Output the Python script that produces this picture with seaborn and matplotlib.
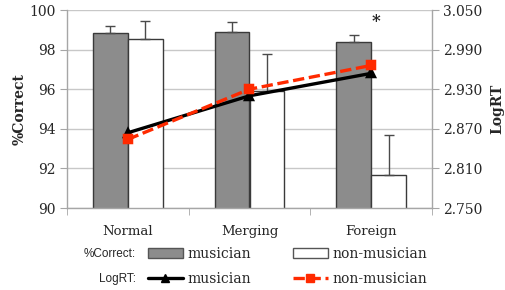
import matplotlib
matplotlib.use("Agg")
import matplotlib.pyplot as plt
import seaborn as sns
import pandas as pd
from matplotlib.patches import Patch
from matplotlib.lines import Line2D

# ---------------- data ----------------
categories = ["Normal", "Merging", "Foreign"]
groups = ["musician", "non-musician"]
correct_musician = [98.85, 98.87, 98.37]
correct_nonmusician = [98.52, 95.90, 91.67]
err_musician = [0.33, 0.51, 0.37]
err_nonmusician = [0.94, 1.86, 2.00]
logrt_musician = [2.864, 2.920, 2.954]
logrt_nonmusician = [2.854, 2.930, 2.966]
left_ticks = [90, 92, 94, 96, 98, 100]
right_ticks = [2.750, 2.810, 2.870, 2.930, 2.990, 3.050]
left_label = "%Correct"
right_label = "LogRT"
star_text = "*"

df_bar = pd.DataFrame({
    "cat": categories * 2,
    "group": [groups[0]] * 3 + [groups[1]] * 3,
    "val": correct_musician + correct_nonmusician,
    "err": err_musician + err_nonmusician,
})
df_line = pd.DataFrame({
    "cat": categories * 2,
    "group": [groups[0]] * 3 + [groups[1]] * 3,
    "val": logrt_musician + logrt_nonmusician,
})

sns.set_style("white")
plt.rcParams["font.family"] = ["DejaVu Serif"]

SERIF = "DejaVu Serif"
SANS = "Liberation Sans"
GRID = "#c8c8c8"
SPINE = "#a6a6a6"
BAR_GRAY = "#8c8c8c"
RED = "#ff2a00"

fig = plt.figure(figsize=(5.05, 2.90), dpi=100)
ax = fig.add_axes([67 / 505, 1 - 208 / 290, (432 - 67) / 505, (208 - 10) / 290])

sns.barplot(data=df_bar, x="cat", y="val", hue="group", order=categories,
            hue_order=groups, palette=[BAR_GRAY, "white"], width=0.57,
            edgecolor="#3a3a3a", linewidth=1.0, errorbar=None, ax=ax,
            legend=False, zorder=2)

# error bars (upward only) at the bar positions
for bar, (_, row) in zip(ax.patches, df_bar.iterrows()):
    xc = bar.get_x() + bar.get_width() / 2
    top = bar.get_height() + bar.get_y()
    ax.errorbar([xc], [top], yerr=[[0], [row["err"]]], fmt="none",
                ecolor="#4a4a4a", elinewidth=1.0, capsize=3.5, capthick=1.0,
                zorder=3)

ax.set_ylim(90, 100)
ax.set_yticks(left_ticks)
ax.set_yticklabels([str(t) for t in left_ticks], fontsize=10, family=SERIF)
ax.yaxis.grid(True, color=GRID, linewidth=1.0, zorder=0)
ax.set_axisbelow(True)
ax.set_xlim(-0.5, 2.5)
ax.set_ylabel(left_label, fontsize=10, fontweight="bold", family=SERIF)
ax.yaxis.set_label_coords(-0.11, 0.5)
ax.set_xlabel("")
for s in ["top", "right"]:
    ax.spines[s].set_visible(False)
for s in ["left", "bottom"]:
    ax.spines[s].set_color(SPINE)
    ax.spines[s].set_linewidth(1.0)
ax.tick_params(axis="y", which="major", direction="out", length=5,
               color=SPINE, pad=3, left=True)

# twin axis for LogRT lines
ax2 = ax.twinx()
sns.pointplot(data=df_line, x="cat", y="val", hue="group", order=categories,
              hue_order=groups, palette=["black", RED], markers=["^", "s"],
              linestyles=["-", "--"], errorbar=None, dodge=False, ax=ax2,
              legend=False, markersize=6, linewidth=2.4)
for ln in ax2.lines:
    if ln.get_linestyle() == "--":
        ln.set_dashes([3.4, 1.4])
ax2.set_ylim(2.750, 3.050)
ax2.set_yticks(right_ticks)
ax2.set_yticklabels([f"{t:.3f}" for t in right_ticks], fontsize=10,
                    family=SERIF)
ax2.set_ylabel(right_label, fontsize=10, fontweight="bold", family=SERIF)
ax2.yaxis.set_label_position("right")
ax2.yaxis.set_label_coords(1.159, 0.5)
ax2.set_xlabel("")
ax2.grid(False)
for s in ["top", "left", "bottom"]:
    ax2.spines[s].set_visible(False)
ax2.spines["right"].set_color(SPINE)
ax2.spines["right"].set_linewidth(1.0)
ax2.tick_params(axis="y", direction="out", length=5, color=SPINE, pad=3,
                right=True)

# x axis: category labels at centres, tick marks at boundaries
ax.set_xlim(-0.5, 2.5)
ax.set_xticks(range(len(categories)))
ax.set_xticklabels(categories, fontsize=9.5, family=SERIF)
ax.set_xticks([-0.5, 0.5, 1.5, 2.5], minor=True)
ax.tick_params(axis="x", which="major", length=0, pad=12)
ax.tick_params(axis="x", which="minor", direction="out", length=5,
               color=SPINE, bottom=True)

# significance star
ax.text(2.04, 99.4, star_text, fontsize=12, fontweight="bold",
        ha="center", va="center", family=SERIF)

# ---------------- custom legend ----------------
row1 = 1 - 254 / 290
row2 = 1 - 279 / 290
fig.text(136 / 505, row1, "%Correct:", family=SANS, fontsize=8.5,
         ha="right", va="center")
fig.text(136 / 505, row2, "LogRT:", family=SANS, fontsize=8.5,
         ha="right", va="center")

entries = [
    (Patch(facecolor=BAR_GRAY, edgecolor="#555555", linewidth=1.0), groups[0], 148, row1),
    (Patch(facecolor="white", edgecolor="#555555", linewidth=1.0), groups[1], 293, row1),
    (Line2D([], [], color="black", linewidth=2.4, marker="^", markersize=6), groups[0], 148, row2),
    (Line2D([], [], color=RED, linewidth=2.4, linestyle=(0, (3.4, 1.4)), marker="s", markersize=6), groups[1], 293, row2),
]
for h, lab, xp, yp in entries:
    fig.legend([h], [lab], loc="center left", bbox_to_anchor=(xp / 505, yp),
               frameon=False, handlelength=2.5, handletextpad=0.35,
               borderpad=0, borderaxespad=0,
               prop={"family": SERIF, "size": 10})

fig.savefig("out.png", dpi=100)
